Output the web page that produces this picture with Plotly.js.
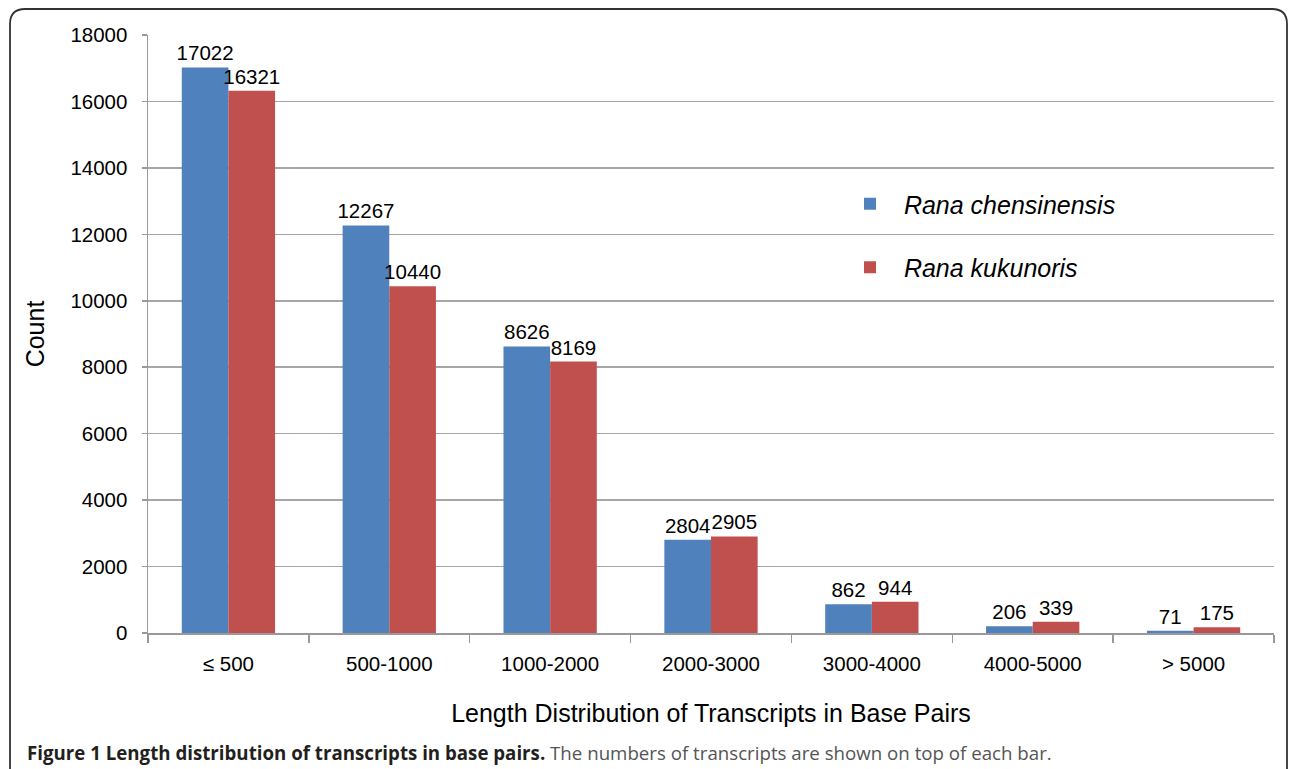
<!DOCTYPE html>
<html>
<head>
<meta charset="utf-8">
<script src="https://cdn.plot.ly/plotly-3.0.1.min.js"></script>
<style>html,body{margin:0;padding:0;background:#fff;}#chart{width:1290px;height:769px;}</style>
</head>
<body>
<div id="chart"></div>
<script>
const categories = ["≤ 500", "500-1000", "1000-2000", "2000-3000", "3000-4000", "4000-5000", "> 5000"];
const chensinensis = [17022, 12267, 8626, 2804, 862, 206, 71];
const kukunoris = [16321, 10440, 8169, 2905, 944, 339, 175];
const seriesNames = ["Rana chensinensis", "Rana kukunoris"];
const yTicks = [0, 2000, 4000, 6000, 8000, 10000, 12000, 14000, 16000, 18000];

const W = 1290, H = 769;
const L = 148, R = 16, T = 35, B = 136;
const pw = W - L - R, ph = H - T - B;
const px = v => (v - L) / pw;
const py = v => (H - B - v) / ph;

const labelFont = {family: "Liberation Sans, Arial, sans-serif", size: 20.5, color: "#000"};

const traces = [
  {type: "bar", x: categories, y: chensinensis, name: "\u00a0\u00a0<i>" + seriesNames[0] + "</i>",
   marker: {color: "#4f81bd"}, text: chensinensis.map(String), textposition: "outside",
   constraintext: "none", textfont: labelFont, cliponaxis: false, legendgroup: "a"},
  {type: "bar", x: categories, y: kukunoris, name: "\u00a0\u00a0<i>" + seriesNames[1] + "</i>",
   marker: {color: "#c0504d"}, text: kukunoris.map(String), textposition: "outside",
   constraintext: "none", textfont: labelFont, cliponaxis: false, legendgroup: "b"}
];

// rounded frame (top corners rounded, bottom open beyond image)
const fx0 = px(10), fx1 = px(1287), fy0 = py(9), fyb = py(775);
const rx = 15 / pw, ry = 15 / ph;
const framePath = `M ${fx0} ${fyb} L ${fx0} ${fy0 - ry} Q ${fx0} ${fy0} ${fx0 + rx} ${fy0} L ${fx1 - rx} ${fy0} Q ${fx1} ${fy0} ${fx1} ${fy0 - ry} L ${fx1} ${fyb}`;

const layout = {
  width: W, height: H,
  margin: {l: L, r: R, t: T, b: B},
  paper_bgcolor: "#fff", plot_bgcolor: "#fff",
  font: {family: "Liberation Sans, Arial, sans-serif", color: "#000"},
  barmode: "group", bargap: 0.42, bargroupgap: 0,
  showlegend: true,
  legend: {x: px(850), y: py(181), xanchor: "left", yanchor: "top",
           font: {family: "Liberation Sans, Arial, sans-serif", size: 25, color: "#000"},
           tracegroupgap: 28, itemwidth: 30, bgcolor: "rgba(0,0,0,0)", traceorder: "grouped"},
  xaxis: {type: "category", tickson: "boundaries", ticks: "outside", ticklen: 8, tickwidth: 1.5,
          tickcolor: "#999", showline: true, linecolor: "#999", linewidth: 1.5, showgrid: false,
          tickfont: {size: 20.5, color: "#000"}, ticklabelstandoff: 12,
          title: {text: "Length Distribution of Transcripts in Base Pairs", font: {size: 25, color: "#000"}, standoff: 30}},
  yaxis: {range: [0, 18000], tickvals: yTicks, ticktext: yTicks.map(String), ticks: "outside", ticklen: 5, tickwidth: 1.5,
          tickcolor: "#999", showline: true, linecolor: "#999", linewidth: 1.5,
          showgrid: true, gridcolor: "#a6a6a6", gridwidth: 1.5, zeroline: false,
          tickfont: {size: 20.5, color: "#000"}, ticklabelstandoff: 10,
          title: {text: "Count", font: {size: 25, color: "#000"}, standoff: 18}},
  shapes: [{type: "path", xref: "paper", yref: "paper", path: framePath,
            line: {color: "#333", width: 1.8}}],
  annotations: [{xref: "paper", yref: "paper", x: px(25), y: py(752), xanchor: "left", yanchor: "middle",
                 showarrow: false, align: "left",
                 font: {family: "Open Sans, Noto Sans, sans-serif", size: 18.7, color: "#555"},
                 text: "<b><span style='color:#231f20'>Figure 1 Length distribution of transcripts in base pairs.</span></b> The numbers of transcripts are shown on top of each bar."}]
};

Plotly.newPlot("chart", traces, layout, {displayModeBar: false, staticPlot: true});
</script>
</body>
</html>
